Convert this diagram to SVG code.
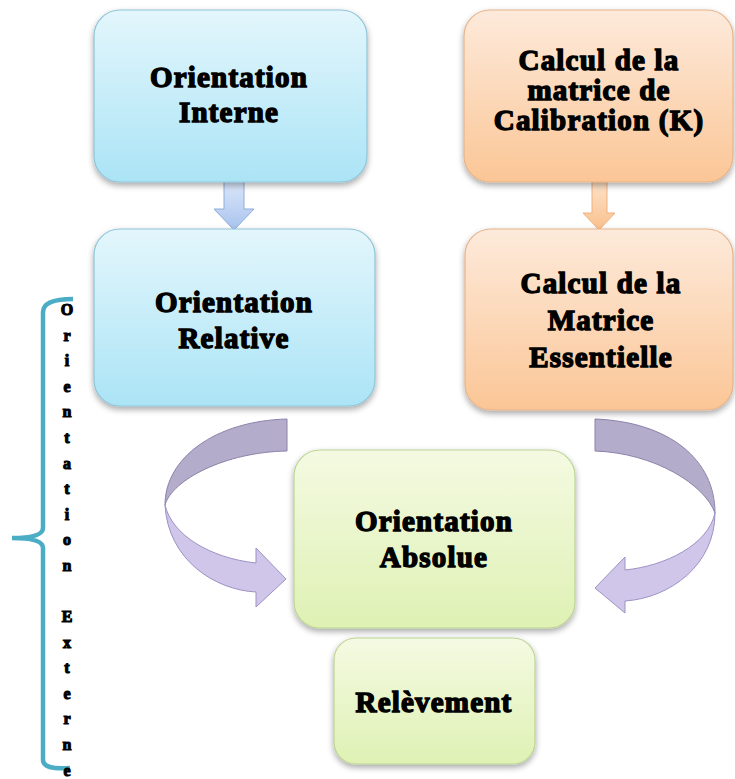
<svg xmlns="http://www.w3.org/2000/svg" width="735" height="779" viewBox="0 0 735 779">
<style>
.t{font-weight:700;font-size:29px;fill:#000;stroke:#000;stroke-width:1.4;text-anchor:middle;letter-spacing:1.2px}
.v{font-weight:700;font-size:16px;fill:#000;stroke:#000;stroke-width:1.1;text-anchor:middle}
.blue{fill:url(#gBlue);stroke:#8fc4d8;stroke-width:1.2}
.orange{fill:url(#gOrange);stroke:#e6b48a;stroke-width:1.2}
.green{fill:url(#gGreen);stroke:#bcd494;stroke-width:1.2}
.dark{fill:#b4accb;stroke:#8c82ab;stroke-width:1}
.light{fill:#d0c6ea;stroke:#9d92c4;stroke-width:1}
</style>
<defs>
<linearGradient id="gBlue" x1="0" y1="0" x2="0" y2="1"><stop offset="0" stop-color="#e3f6fc"/><stop offset="1" stop-color="#abe4f6"/></linearGradient>
<linearGradient id="gOrange" x1="0" y1="0" x2="0" y2="1"><stop offset="0" stop-color="#fdeadb"/><stop offset="1" stop-color="#fbc696"/></linearGradient>
<linearGradient id="gGreen" x1="0" y1="0" x2="0" y2="1"><stop offset="0" stop-color="#f4fae2"/><stop offset="1" stop-color="#dff1b4"/></linearGradient>
<linearGradient id="gBA" x1="0" y1="0" x2="0" y2="1"><stop offset="0" stop-color="#dde8fa"/><stop offset="1" stop-color="#a8c3ee"/></linearGradient>
<linearGradient id="gOA" x1="0" y1="0" x2="0" y2="1"><stop offset="0" stop-color="#fde3c9"/><stop offset="1" stop-color="#f9c08c"/></linearGradient>
<filter id="sh" x="-10%" y="-10%" width="120%" height="130%">
<feGaussianBlur in="SourceAlpha" stdDeviation="3"/>
<feOffset dx="0" dy="3" result="b"/>
<feComponentTransfer><feFuncA type="linear" slope="0.35"/></feComponentTransfer>
<feMerge><feMergeNode/><feMergeNode in="SourceGraphic"/></feMerge>
</filter>
</defs>
<rect width="735" height="779" fill="#fff"/>

<g id="connectors">
<path d="M224 180 H244 V209 H254 L234 230 L214 209 H224 Z" fill="url(#gBA)" stroke="#8eacd9" stroke-width="1"/>
<path d="M592 182 H607 V213 H615 L599 230 L583 213 H592 Z" fill="url(#gOA)" stroke="#f0b07c" stroke-width="1"/>
<g id="curve-left">
<path class="light" d="M165 505 C168 560 215 590 256 592 L256 607 L286 579 L256 548 L256 563 C210 558 172 535 165 505 Z"/>
<path class="dark" d="M287 419 C215 421 165 458 165 505 C172 480 225 452 287 451 Z"/>
</g>
<g id="curve-right">
<path class="light" d="M715 513 C715 565 670 598 625 601 L625 613 L595 588 L625 557 L625 570 C665 566 708 545 715 513 Z"/>
<path class="dark" d="M595 419 C670 422 715 460 715 513 C705 485 655 453 595 451 Z"/>
</g>
</g>

<g font-family="Liberation Serif, Times New Roman, serif">
<g id="node-orientation-interne">
<rect class="blue" x="94" y="10" width="273" height="172" rx="26" filter="url(#sh)"/>
<text class="t" x="229" y="87">Orientation</text>
<text class="t" x="229" y="122">Interne</text>
</g>
<g id="node-calibration">
<rect class="orange" x="464" y="10" width="269" height="172" rx="26" filter="url(#sh)"/>
<text class="t" x="599" y="70">Calcul de la</text>
<text class="t" x="599" y="100">matrice de</text>
<text class="t" x="599" y="130">Calibration (K)</text>
</g>
<g id="node-orientation-relative">
<rect class="blue" x="94" y="229" width="281" height="177" rx="26" filter="url(#sh)"/>
<text class="t" x="234" y="312">Orientation</text>
<text class="t" x="234" y="348">Relative</text>
</g>
<g id="node-matrice-essentielle">
<rect class="orange" x="465" y="229" width="268" height="181" rx="26" filter="url(#sh)"/>
<text class="t" x="601" y="293">Calcul de la</text>
<text class="t" x="601" y="330">Matrice</text>
<text class="t" x="601" y="367">Essentielle</text>
</g>
<g id="node-orientation-absolue">
<rect class="green" x="294" y="450" width="281" height="178" rx="26" filter="url(#sh)"/>
<text class="t" x="434" y="531">Orientation</text>
<text class="t" x="434" y="567">Absolue</text>
</g>
<g id="node-relevement">
<rect class="green" x="334" y="638" width="201" height="126" rx="22" filter="url(#sh)"/>
<text class="t" x="434" y="712">Relèvement</text>
</g>

<g id="brace-orientation-externe">
<path d="M73 299 Q43 299 43 312 L43 528 Q43 538 12 538 Q43 538 43 548 L43 760 Q43 770 70 768" fill="none" stroke="#4bacc6" stroke-width="4.5"/>
<text class="v" x="67" y="315">O</text>
<text class="v" x="67" y="341">r</text>
<text class="v" x="67" y="366">i</text>
<text class="v" x="67" y="392">e</text>
<text class="v" x="67" y="417">n</text>
<text class="v" x="67" y="443">t</text>
<text class="v" x="67" y="469">a</text>
<text class="v" x="67" y="494">t</text>
<text class="v" x="67" y="520">i</text>
<text class="v" x="67" y="545">o</text>
<text class="v" x="67" y="571">n</text>
<text class="v" x="67" y="622">E</text>
<text class="v" x="67" y="648">x</text>
<text class="v" x="67" y="673">t</text>
<text class="v" x="67" y="699">e</text>
<text class="v" x="67" y="724">r</text>
<text class="v" x="67" y="750">n</text>
<text class="v" x="67" y="776">e</text>
</g>
</g>
</svg>
